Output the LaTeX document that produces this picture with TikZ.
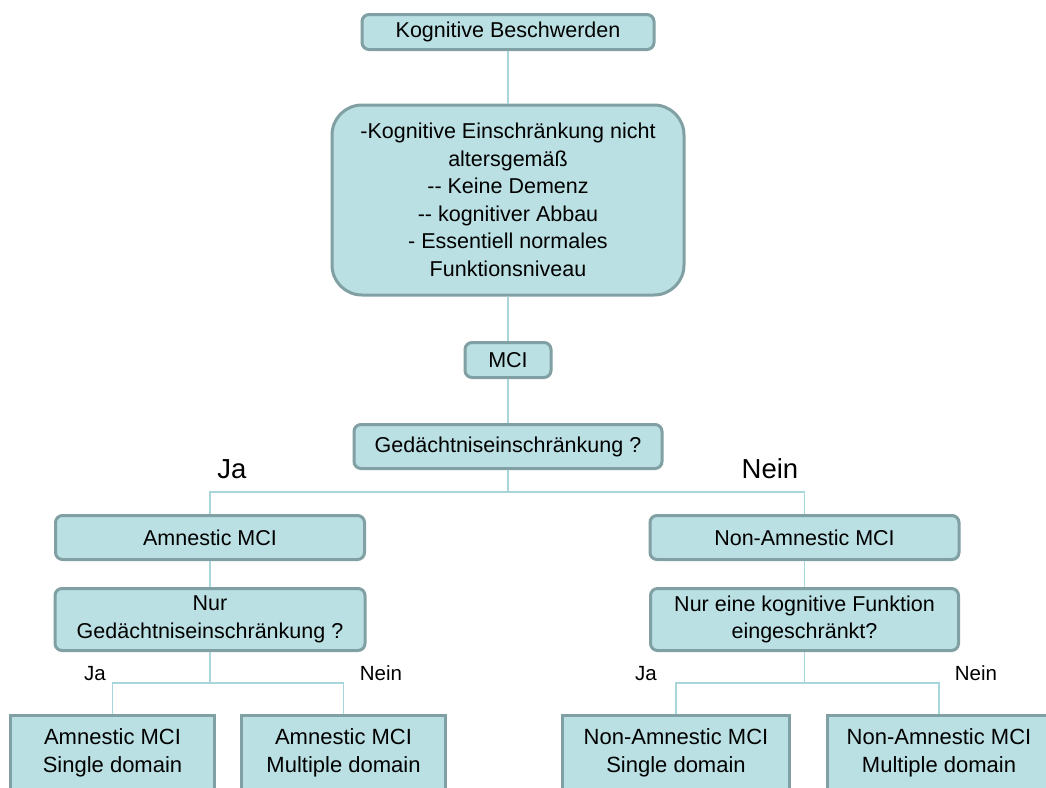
\documentclass[tikz,border=0pt]{standalone}
\usepackage{fontspec}
\setmainfont{Liberation Sans}
\definecolor{boxfill}{RGB}{186,224,227}
\definecolor{boxline}{RGB}{128,160,163}
\definecolor{conn}{RGB}{168,214,219}
\begin{document}
\begin{tikzpicture}[x=1pt,y=-1pt,
  box/.style={draw=boxline,fill=boxfill,line width=3pt,rounded corners=7pt,
    align=center,inner sep=0pt,font=\fontsize{21.5}{27.5}\selectfont},
  leaf/.style={box,rounded corners=0pt,font=\fontsize{22}{28}\selectfont},
  link/.style={draw=conn,line width=1.5pt},
  biglbl/.style={anchor=base,inner sep=0pt,font=\fontsize{27.5}{30}\selectfont},
  smalllbl/.style={anchor=base,inner sep=0pt,font=\fontsize{20.5}{24}\selectfont}]
\useasboundingbox (0,0) rectangle (1046,787);
\clip (0,0) rectangle (1046,787);
\fill[white] (0,0) rectangle (1046,787);

\node[box,minimum width=292,minimum height=35] (kb) at (508,32) {Kognitive Beschwerden};
\node[box,rounded corners=30pt,minimum width=352,minimum height=190] (big) at (508,200)
  {-Kognitive Einschränkung nicht\\altersgemäß\\-\kern0pt- Keine Demenz\\-\kern0pt- kognitiver Abbau\\- Essentiell normales\\Funktionsniveau};
\node[box,minimum width=86,minimum height=35] (mci) at (508,360) {MCI};
\node[box,minimum width=308,minimum height=44] (ged) at (508,446.5) {Gedächtniseinschränkung ?};
\node[box,minimum width=309,minimum height=44] (amn) at (210,537.5) {Amnestic MCI};
\node[box,minimum width=309,minimum height=44] (non) at (804.5,537.5) {Non-Amnestic MCI};
\node[box,minimum width=310,minimum height=62] (nurged) at (210,619.5) {Nur\\Gedächtniseinschränkung ?};
\node[box,minimum width=308,minimum height=62] (nureine) at (804.5,619.5) {Nur eine kognitive Funktion\\eingeschränkt?};
\node[leaf,minimum width=204,minimum height=76] (b1) at (112.5,753) {Amnestic MCI\\Single domain};
\node[leaf,minimum width=204,minimum height=76] (b2) at (343.5,753) {Amnestic MCI\\Multiple domain};
\node[leaf,minimum width=227,minimum height=76] (b3) at (676,753) {Non-Amnestic MCI\\Single domain};
\node[leaf,minimum width=224,minimum height=76] (b4) at (939,753) {Non-Amnestic MCI\\Multiple domain};

\node[biglbl] (ja1) at (232,478) {Ja};
\node[biglbl] (nein1) at (770,478) {Nein};
\node[smalllbl] (ja2) at (95,680) {Ja};
\node[smalllbl] (nein2) at (381,680) {Nein};
\node[smalllbl] (ja3) at (646,680) {Ja};
\node[smalllbl] (nein3) at (976,680) {Nein};

\coordinate (j1) at (508,492);
\coordinate (j2) at (210,683);
\coordinate (j3) at (804.5,683);

\draw[link] (kb.south) -- (big.north);
\draw[link] (big.south) -- (mci.north);
\draw[link] (mci.south) -- (ged.north);
\draw[link] (ged.south) -- (j1) -| (amn.north);
\draw[link] (j1) -| (non.north);
\draw[link] (amn.south) -- (nurged.north);
\draw[link] (non.south) -- (nureine.north);
\draw[link] (nurged.south) -- (j2) -| (b1.north);
\draw[link] (j2) -| (b2.north);
\draw[link] (nureine.south) -- (j3) -| (b3.north);
\draw[link] (j3) -| (b4.north);
\end{tikzpicture}
\end{document}
